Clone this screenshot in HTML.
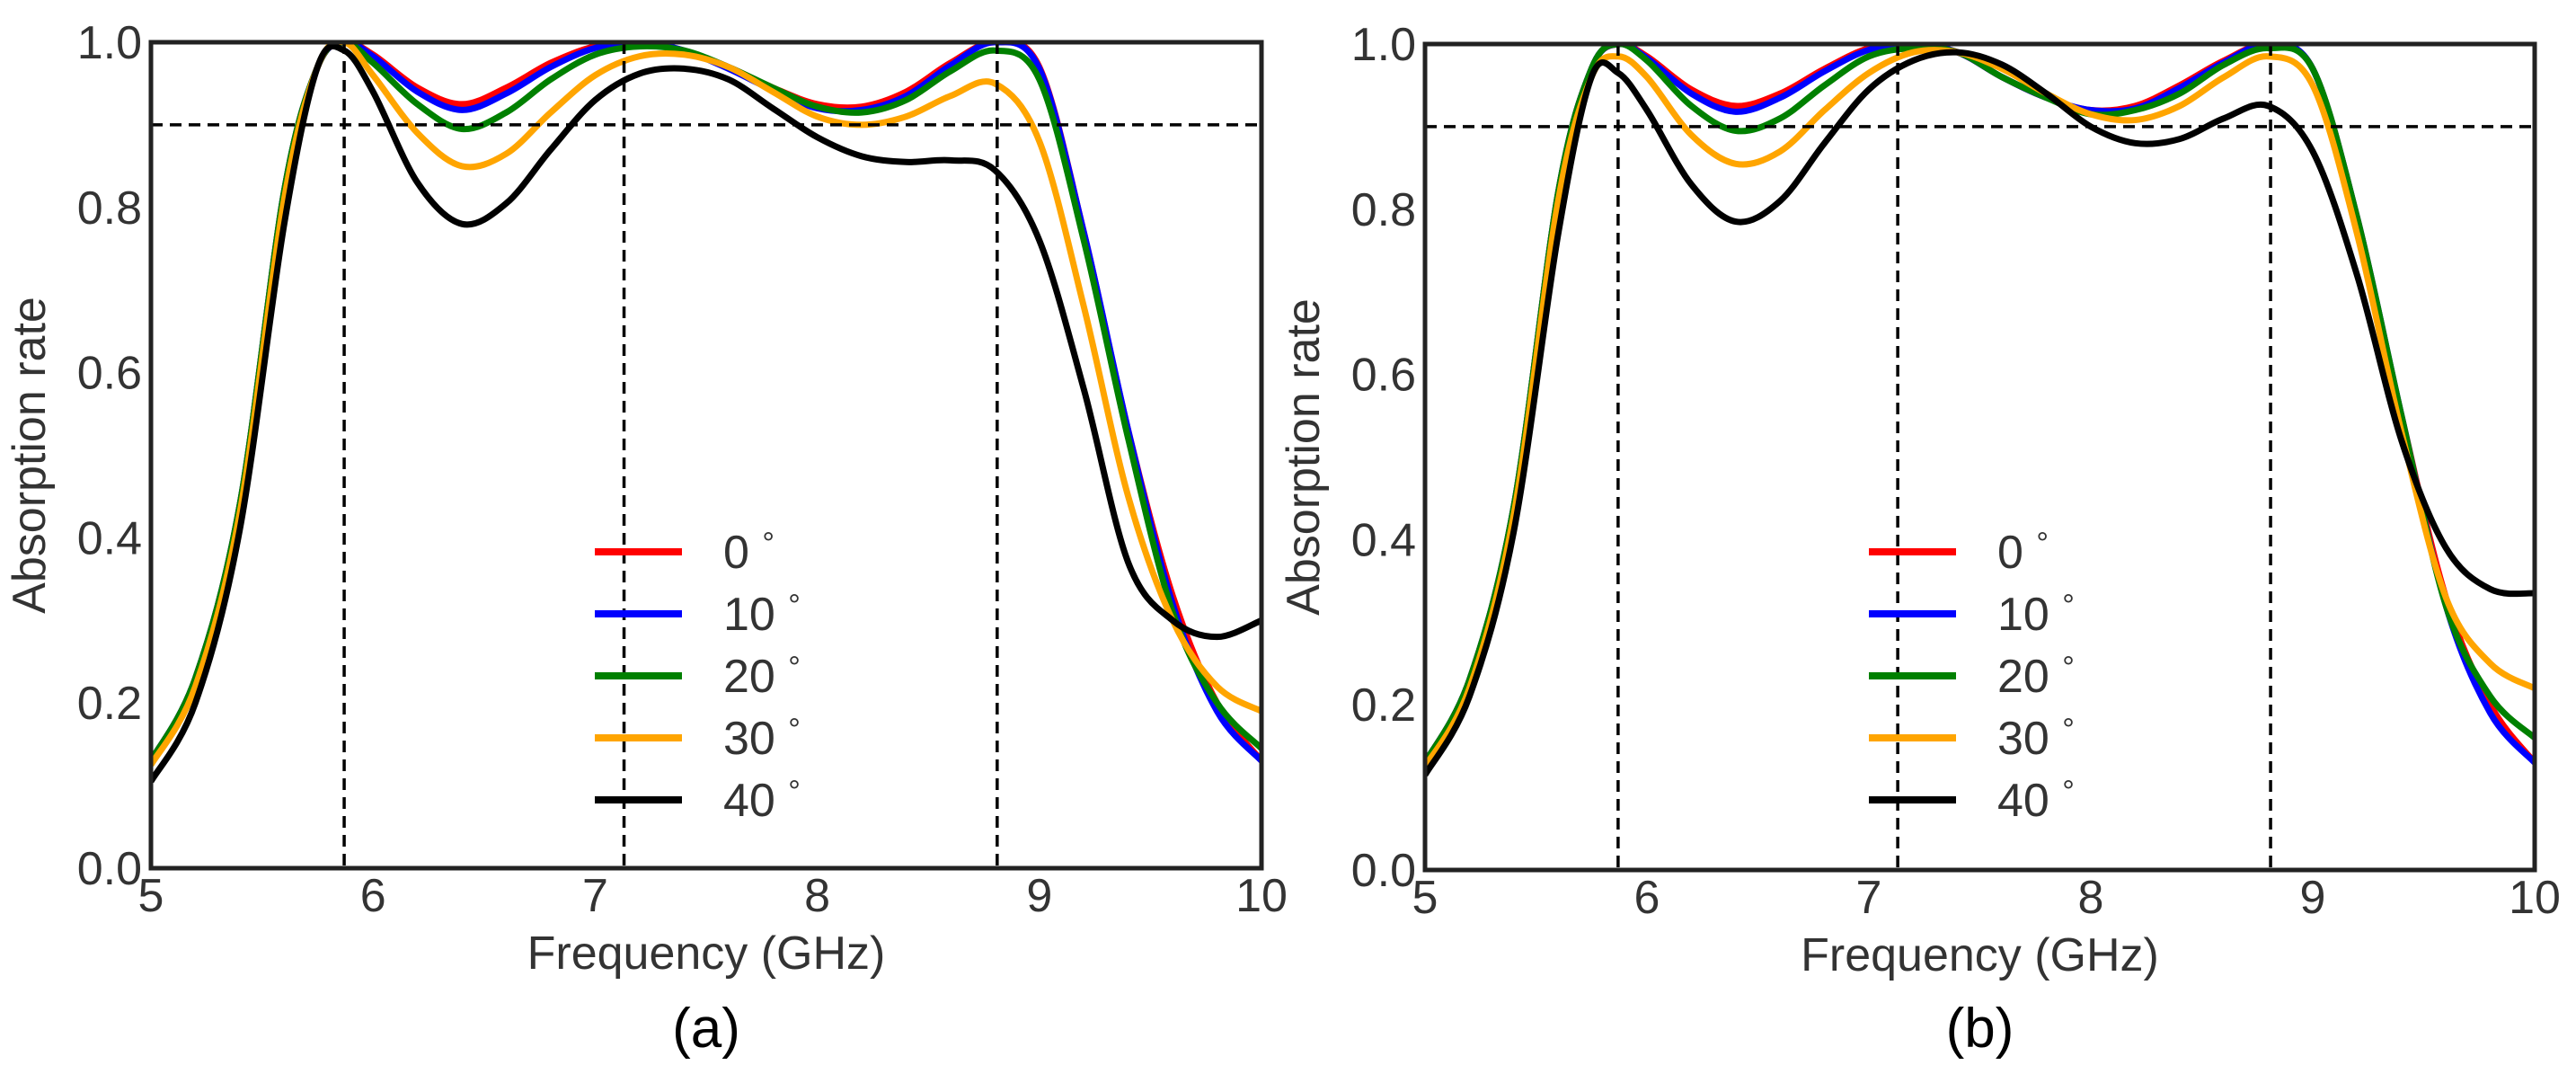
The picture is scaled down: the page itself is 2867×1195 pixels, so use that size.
<!DOCTYPE html>
<html><head><meta charset="utf-8"><style>
html,body{margin:0;padding:0;background:#fff;}
svg{display:block;font-family:"Liberation Sans",sans-serif;}
</style></head><body>
<svg id="chart" width="2867" height="1195" viewBox="0 0 2867 1195" xmlns="http://www.w3.org/2000/svg"></svg>
<script>
const freqs=[5.0,5.2,5.4,5.6,5.75,5.87,6.0,6.2,6.4,6.6,6.8,7.0,7.2,7.4,7.6,7.8,8.0,8.2,8.4,8.6,8.8,9.0,9.2,9.4,9.6,9.8,10.0];
const angleLabels=["0","10","20","30","40"];
const seriesColors=["#ff0000","#0000ff","#008000","#ffa500","#000000"];
const xTicks=[5,6,7,8,9,10];
const yTicks=["0.0","0.2","0.4","0.6","0.8","1.0"];
const markerFreqs=[5.87,7.13,8.81];
const thresholdValue=0.9;
const aRed=[0.13,0.23,0.44,0.82,0.97,1.0,0.985,0.945,0.925,0.945,0.975,0.995,1.0,0.99,0.97,0.945,0.925,0.922,0.94,0.975,1.0,0.97,0.77,0.53,0.33,0.2,0.13];
const aBlue=[0.13,0.23,0.44,0.82,0.97,1.0,0.983,0.94,0.918,0.938,0.97,0.993,1.0,0.99,0.968,0.942,0.92,0.918,0.935,0.972,1.0,0.968,0.77,0.53,0.32,0.19,0.13];
const aGreen=[0.13,0.23,0.44,0.82,0.97,1.0,0.975,0.925,0.895,0.915,0.955,0.985,0.995,0.99,0.97,0.945,0.922,0.915,0.93,0.965,0.99,0.955,0.76,0.52,0.31,0.2,0.145];
const aOrange=[0.125,0.22,0.43,0.81,0.97,1.0,0.96,0.89,0.85,0.865,0.915,0.96,0.983,0.985,0.97,0.94,0.91,0.9,0.91,0.935,0.95,0.88,0.68,0.45,0.3,0.22,0.19];
const aBlack=[0.105,0.2,0.41,0.78,0.97,0.99,0.94,0.83,0.78,0.805,0.87,0.93,0.962,0.968,0.955,0.92,0.885,0.862,0.855,0.857,0.845,0.76,0.58,0.37,0.3,0.28,0.3];
const bRed=[0.13,0.23,0.44,0.82,0.97,1.0,0.985,0.945,0.925,0.94,0.97,0.995,1.0,0.99,0.96,0.935,0.92,0.925,0.95,0.98,1.0,0.97,0.79,0.55,0.33,0.2,0.13];
const bBlue=[0.13,0.23,0.44,0.82,0.97,1.0,0.983,0.94,0.918,0.935,0.967,0.993,1.0,0.99,0.96,0.935,0.92,0.922,0.947,0.978,1.0,0.97,0.79,0.55,0.32,0.19,0.13];
const bGreen=[0.13,0.23,0.44,0.82,0.97,1.0,0.98,0.925,0.895,0.91,0.95,0.985,0.995,0.99,0.96,0.935,0.915,0.92,0.94,0.975,0.995,0.97,0.79,0.55,0.32,0.21,0.16];
const bOrange=[0.125,0.22,0.43,0.81,0.96,0.985,0.96,0.89,0.855,0.87,0.92,0.965,0.99,0.99,0.97,0.94,0.915,0.908,0.925,0.96,0.985,0.95,0.77,0.53,0.33,0.25,0.22];
const bBlack=[0.115,0.21,0.41,0.77,0.96,0.965,0.92,0.83,0.785,0.81,0.88,0.945,0.98,0.99,0.975,0.94,0.9,0.88,0.885,0.91,0.925,0.87,0.72,0.52,0.39,0.34,0.335];
const panelA=[aRed,aBlue,aGreen,aOrange,aBlack];
const panelB=[bRed,bBlue,bGreen,bOrange,bBlack];

const NS="http://www.w3.org/2000/svg";
const svg=document.getElementById('chart');
function mk(tag,attrs,parent){const e=document.createElementNS(NS,tag);for(const k in attrs)e.setAttribute(k,attrs[k]);(parent||svg).appendChild(e);return e;}

function drawPanel(L,T,R,B,data,tag,letter){
  const g=mk('g',{});
  
  
  const xs=f=>L+(f-5)/5*(R-L);
  const ys=v=>B-v*(B-T);
  const cp=mk('clipPath',{id:'clip'+tag},g);
  mk('rect',{x:L,y:T,width:R-L,height:B-T},cp);
  const cg=mk('g',{'clip-path':'url(#clip'+tag+')'},g);
  data.forEach((vals,si)=>{
    const pts=freqs.map((f,i)=>[xs(f),ys(vals[i])]);
    let d='M'+pts[0][0]+','+pts[0][1];
    for(let i=0;i<pts.length-1;i++){
      const p0=pts[Math.max(0,i-1)],p1=pts[i],p2=pts[i+1],p3=pts[Math.min(pts.length-1,i+2)];
      const c1=[p1[0]+(p2[0]-p0[0])/6,p1[1]+(p2[1]-p0[1])/6];
      const c2=[p2[0]-(p3[0]-p1[0])/6,p2[1]-(p3[1]-p1[1])/6];
      d+=' C'+c1[0]+','+c1[1]+' '+c2[0]+','+c2[1]+' '+p2[0]+','+p2[1];
    }
    const p=mk('path',{d:d,fill:'none',stroke:seriesColors[si],'stroke-width':7,'stroke-linejoin':'round'},cg);
    
    
  });
  markerFreqs.forEach(f=>{
    const l=mk('line',{x1:xs(f),x2:xs(f),y1:T,y2:B,stroke:'#000','stroke-width':3.5,'stroke-dasharray':'13 8'},g);
    
    
  });
  const h=mk('line',{x1:L,x2:R,y1:ys(thresholdValue),y2:ys(thresholdValue),stroke:'#000','stroke-width':3.5,'stroke-dasharray':'13 8'},g);
  
  
  const fr=mk('rect',{x:L,y:T,width:R-L,height:B-T,fill:'none',stroke:'#222','stroke-width':5},g);
  
  
  xTicks.forEach(t=>{
    const tx=mk('text',{x:xs(t),y:B+48,'text-anchor':'middle','font-size':52,fill:'#333'},g);
    tx.textContent=t;
    
    
  });
  yTicks.forEach(t=>{
    const ty=mk('text',{x:L-10,y:ys(parseFloat(t))+18,'text-anchor':'end','font-size':52,fill:'#333'},g);
    ty.textContent=t;
    
    
  });
  const xt=mk('text',{x:(L+R)/2,y:B+112,'text-anchor':'middle','font-size':52,fill:'#333'},g);
  xt.textContent='Frequency (GHz)';
  
  
  const yt=mk('text',{x:0,y:0,'text-anchor':'middle','font-size':52,fill:'#333',transform:'translate('+(L-118)+','+((T+B)/2)+') rotate(-90)'},g);
  yt.textContent='Absorption rate';
  
  
  const pl=mk('text',{x:(L+R)/2,y:1165,'text-anchor':'middle','font-size':62,fill:'#000'},g);
  pl.textContent='('+letter+')';
  
  
  const lg=mk('g',{},g);
  
  
  angleLabels.forEach((a,i)=>{
    const yy=614+i*69;
    const ln=mk('line',{x1:L+494,x2:L+591,y1:yy,y2:yy,stroke:seriesColors[i],'stroke-width':8},lg);
    
    
    const tx=mk('text',{x:L+637,y:yy+18,'font-size':52,fill:'#333'},lg);
    tx.textContent=a+' ';
    const ts=mk('tspan',{'font-size':34,dy:-16},tx);
    ts.textContent='°';
    
    
  });
}
drawPanel(168,47,1404,966,panelA,'a','a');
drawPanel(1586,49,2821,968,panelB,'b','b');
</script>
</body></html>
